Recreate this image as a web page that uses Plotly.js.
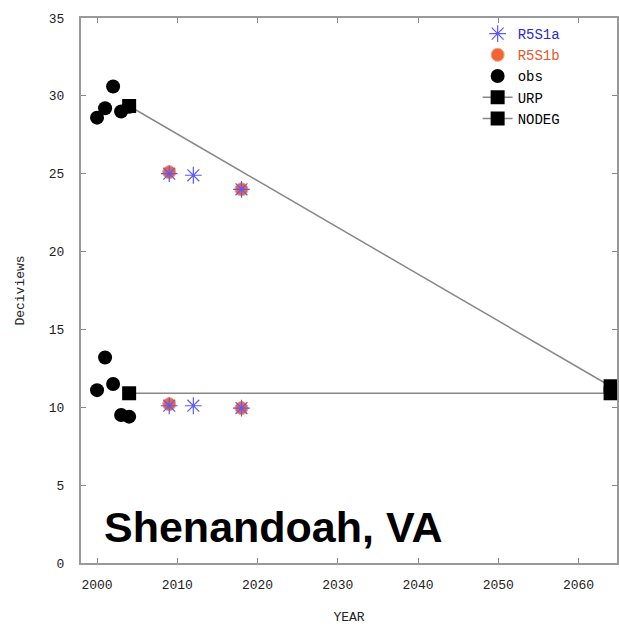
<!DOCTYPE html>
<html><head><meta charset="utf-8">
<script src="https://cdn.plot.ly/plotly-3.0.1.min.js"></script>
<style>html,body{margin:0;padding:0;background:#fff}#chart{width:619px;height:627px}</style>
</head><body><div id="chart"></div>
<script>
// Data
const obsYears = [2000, 2001, 2002, 2003, 2004];
const obsWorst = [28.6, 29.2, 30.6, 29.0, 29.3];
const obsBest = [11.1, 13.2, 11.5, 9.5, 9.4];
const glideYears = [2004, 2064];
const urpValues = [29.35, 11.35];
const nodegValues = [10.9, 10.9];
const r5s1aYears = [2009, 2012, 2018];
const r5s1aWorst = [25.0, 24.9, 24.0];
const r5s1aBest = [10.1, 10.1, 9.95];
const r5s1bYears = [2009, 2018];
const r5s1bWorst = [25.1, 24.0];
const r5s1bBest = [10.2, 9.95];
const siteName = "Shenandoah, VA";
const xTicks = [2000, 2010, 2020, 2030, 2040, 2050, 2060];
const yTicks = [0, 5, 10, 15, 20, 25, 30, 35];

const mono = "Liberation Mono, Courier New, monospace";
const traces = [
  {x: r5s1bYears.concat(r5s1bYears), y: r5s1bWorst.concat(r5s1bBest), mode: 'markers', type: 'scatter',
   name: '<span style="color:#e8552a">R5S1b</span>', legendrank: 2,
   marker: {symbol: 'circle', size: 13, color: '#f26434', line: {color: '#f8a080', width: 1}}},
  {x: r5s1aYears.concat(r5s1aYears), y: r5s1aWorst.concat(r5s1aBest), mode: 'markers', type: 'scatter',
   name: '<span style="color:#2a2ad0">R5S1a</span>', legendrank: 1,
   marker: {symbol: 'asterisk-open', size: 14, color: '#5a5aff', line: {color: '#5a5aff', width: 1.2}}},
  {x: obsYears.concat(obsYears), y: obsWorst.concat(obsBest), mode: 'markers', type: 'scatter',
   name: 'obs', legendrank: 3,
   marker: {symbol: 'circle', size: 14, color: '#000'}},
  {x: glideYears, y: urpValues, mode: 'lines+markers', type: 'scatter', name: 'URP', legendrank: 4,
   line: {color: '#888', width: 1.5}, marker: {symbol: 'square', size: 14, color: '#000'}},
  {x: glideYears, y: nodegValues, mode: 'lines+markers', type: 'scatter', name: 'NODEG', legendrank: 5,
   line: {color: '#888', width: 1.5}, marker: {symbol: 'square', size: 14, color: '#000'}}
];

const layout = {
  width: 619, height: 627,
  margin: {l: 81, r: 2, t: 18, b: 64},
  paper_bgcolor: '#fff', plot_bgcolor: '#fff',
  showlegend: true,
  legend: {x: 0.74, y: 1.0, xanchor: 'left', yanchor: 'top', bgcolor: 'rgba(0,0,0,0)',
           font: {family: mono, size: 14, color: '#000'}, tracegroupgap: 0},
  xaxis: {range: [1998, 2064.8], tickvals: xTicks, ticktext: xTicks.map(String),
          ticks: 'inside', ticklen: 5, tickcolor: '#888', showgrid: false, zeroline: false,
          showline: true, linecolor: '#999', linewidth: 2, mirror: 'ticks',
          tickfont: {family: mono, size: 13, color: '#222'}, ticklabelstandoff: 8,
          title: {text: 'YEAR', font: {family: mono, size: 13, color: '#222'}, standoff: 20}},
  yaxis: {range: [0, 35], tickvals: yTicks, ticktext: yTicks.map(String),
          ticks: 'inside', ticklen: 5, tickcolor: '#888', showgrid: false, zeroline: false,
          showline: true, linecolor: '#999', linewidth: 2, mirror: 'ticks',
          tickfont: {family: mono, size: 13, color: '#222'}, ticklabelstandoff: 12,
          title: {text: 'Deciviews', font: {family: mono, size: 13, color: '#222'}, standoff: 21}},
  annotations: [{text: '<b>' + siteName + '</b>', xref: 'paper', yref: 'paper', x: 0.04, y: 0.066,
                 xanchor: 'left', yanchor: 'middle', showarrow: false,
                 font: {family: 'Liberation Sans, Arial, sans-serif', size: 43, color: '#000'}}]
};
Plotly.newPlot('chart', traces, layout, {displayModeBar: false, staticPlot: true});
</script></body></html>
